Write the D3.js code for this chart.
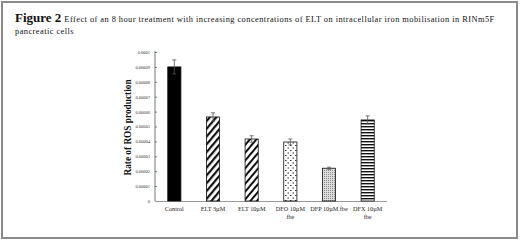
<!DOCTYPE html>
<html><head><meta charset="utf-8">
<script src="https://cdn.jsdelivr.net/npm/d3@7"></script>
<style>body{margin:0;background:#fff}svg{display:block}</style>
</head><body>
<script>
const categories = [["Control"],["ELT 3µM"],["ELT 10µM"],["DFO 10µM","fbe"],["DFP 10µM fbe"],["DFX 10µM","fbe"]];
const values = [0.0000900, 0.0000564, 0.0000416, 0.0000396, 0.0000220, 0.0000544];
const errors = [0.0000047, 0.0000028, 0.0000022, 0.0000020, 0.0000007, 0.0000027];
const tickValues = [0,0.00001,0.00002,0.00003,0.00004,0.00005,0.00006,0.00007,0.00008,0.00009,0.0001];
const tickLabels = ["0","0.00001","0.00002","0.00003","0.00004","0.00005","0.00006","0.00007","0.00008","0.00009","0.0001"];
const patterns = ["solid","diag","diag2","dots","fine","horiz"];

const W=520,H=242;
const svg=d3.select("body").append("svg").attr("width",W).attr("height",H);
const defs=svg.append("defs");
let p=defs.append("pattern").attr("id","diag").attr("patternUnits","userSpaceOnUse").attr("width",5).attr("height",5).attr("patternTransform","rotate(40)");
p.append("rect").attr("width",5).attr("height",5).attr("fill","#fff");
p.append("rect").attr("width",2.2).attr("height",5).attr("fill","#111");
p=defs.append("pattern").attr("id","diag2").attr("patternUnits","userSpaceOnUse").attr("width",5).attr("height",5).attr("patternTransform","rotate(40)");
p.append("rect").attr("width",5).attr("height",5).attr("fill","#fff");
p.append("rect").attr("width",2).attr("height",5).attr("fill","#111");
p=defs.append("pattern").attr("id","dots").attr("patternUnits","userSpaceOnUse").attr("width",5).attr("height",5);
p.append("rect").attr("width",5).attr("height",5).attr("fill","#fff");
p.append("rect").attr("x",0).attr("y",0).attr("width",1.5).attr("height",1).attr("fill","#333");
p.append("rect").attr("x",2.5).attr("y",2.5).attr("width",1.5).attr("height",1).attr("fill","#333");
p=defs.append("pattern").attr("id","fine").attr("patternUnits","userSpaceOnUse").attr("width",2).attr("height",2);
p.append("rect").attr("width",2).attr("height",2).attr("fill","#ddd");
p.append("rect").attr("width",1).attr("height",1).attr("fill","#888");
p=defs.append("pattern").attr("id","horiz").attr("patternUnits","userSpaceOnUse").attr("width",4).attr("height",3);
p.append("rect").attr("width",4).attr("height",3).attr("fill","#fff");
p.append("rect").attr("width",4).attr("height",1.4).attr("fill","#111");

svg.append("rect").attr("x",2).attr("y",2).attr("width",515).attr("height",236).attr("fill","none").attr("stroke","#8a8a8a").attr("stroke-width",2);

const t=svg.append("text").attr("x",15).attr("y",22).attr("font-family","Liberation Serif, Times New Roman, serif").attr("fill","#111");
t.append("tspan").attr("font-weight","bold").attr("font-size",13).text("Figure 2");
t.append("tspan").attr("font-size",8.4).attr("dx",3).attr("letter-spacing",0.45).text("Effect of an 8 hour treatment with increasing concentrations of ELT on intracellular iron mobilisation in RINm5F");
svg.append("text").attr("x",15).attr("y",34).attr("font-family","Liberation Serif, Times New Roman, serif").attr("font-size",8.4).attr("letter-spacing",0.45).attr("fill","#111").text("pancreatic cells");

const x0=155,x1=387,yTop=52,yBot=201;
const x=d3.scaleBand().domain(d3.range(values.length)).range([x0,x1]).paddingInner(0.66).paddingOuter(0.33);
const y=d3.scaleLinear().domain([0,0.0001]).range([yBot,yTop]);

const ya=svg.append("g").attr("transform",`translate(${x0},0)`)
 .call(d3.axisLeft(y).tickValues(tickValues).tickFormat((d,i)=>tickLabels[i]).tickSize(-2).tickPadding(5));
ya.select(".domain").attr("stroke","#777").attr("d",`M0,${yTop-1}V${yBot}`);
ya.selectAll(".tick line").attr("stroke","#777");
ya.selectAll("text").attr("font-family","Liberation Serif, serif").attr("font-size",4.5).attr("fill","#333");

svg.append("line").attr("x1",x0).attr("x2",x1).attr("y1",yBot+0.5).attr("y2",yBot+0.5).attr("stroke","#999").attr("stroke-width",1);

svg.selectAll("rect.bar").data(values).enter().append("rect").attr("class","bar")
 .attr("x",(d,i)=>x(i)).attr("width",x.bandwidth())
 .attr("y",d=>y(d)).attr("height",d=>yBot-y(d))
 .attr("fill",(d,i)=>patterns[i]==="solid"?"#000":`url(#${patterns[i]})`)
 .attr("stroke","#111").attr("stroke-width",0.8);

const eb=svg.selectAll("g.err").data(values).enter().append("g").attr("stroke","#555").attr("stroke-width",0.8);
eb.append("line").attr("x1",(d,i)=>x(i)+x.bandwidth()/2).attr("x2",(d,i)=>x(i)+x.bandwidth()/2)
 .attr("y1",(d,i)=>y(d+errors[i])).attr("y2",(d,i)=>y(d-errors[i]));
eb.append("line").attr("x1",(d,i)=>x(i)+x.bandwidth()/2-2).attr("x2",(d,i)=>x(i)+x.bandwidth()/2+2)
 .attr("y1",(d,i)=>y(d+errors[i])).attr("y2",(d,i)=>y(d+errors[i]));
eb.append("line").attr("x1",(d,i)=>x(i)+x.bandwidth()/2-2).attr("x2",(d,i)=>x(i)+x.bandwidth()/2+2)
 .attr("y1",(d,i)=>y(d-errors[i])).attr("y2",(d,i)=>y(d-errors[i]));

categories.forEach((lines,i)=>{
  const tx=svg.append("text").attr("x",x(i)+x.bandwidth()/2).attr("y",211).attr("text-anchor","middle")
   .attr("font-family","Liberation Serif, serif").attr("font-size",6.2).attr("fill","#222");
  lines.forEach((l,j)=>tx.append("tspan").attr("x",x(i)+x.bandwidth()/2).attr("dy",j?7.5:0).text(l));
});

svg.append("text").attr("transform",`translate(131,${(yTop+yBot)/2+1}) rotate(-90)`).attr("text-anchor","middle")
 .attr("font-family","Liberation Serif, serif").attr("font-weight","bold").attr("font-size",9.3).attr("fill","#111")
 .text("Rate of ROS production");
</script>
</body></html>
